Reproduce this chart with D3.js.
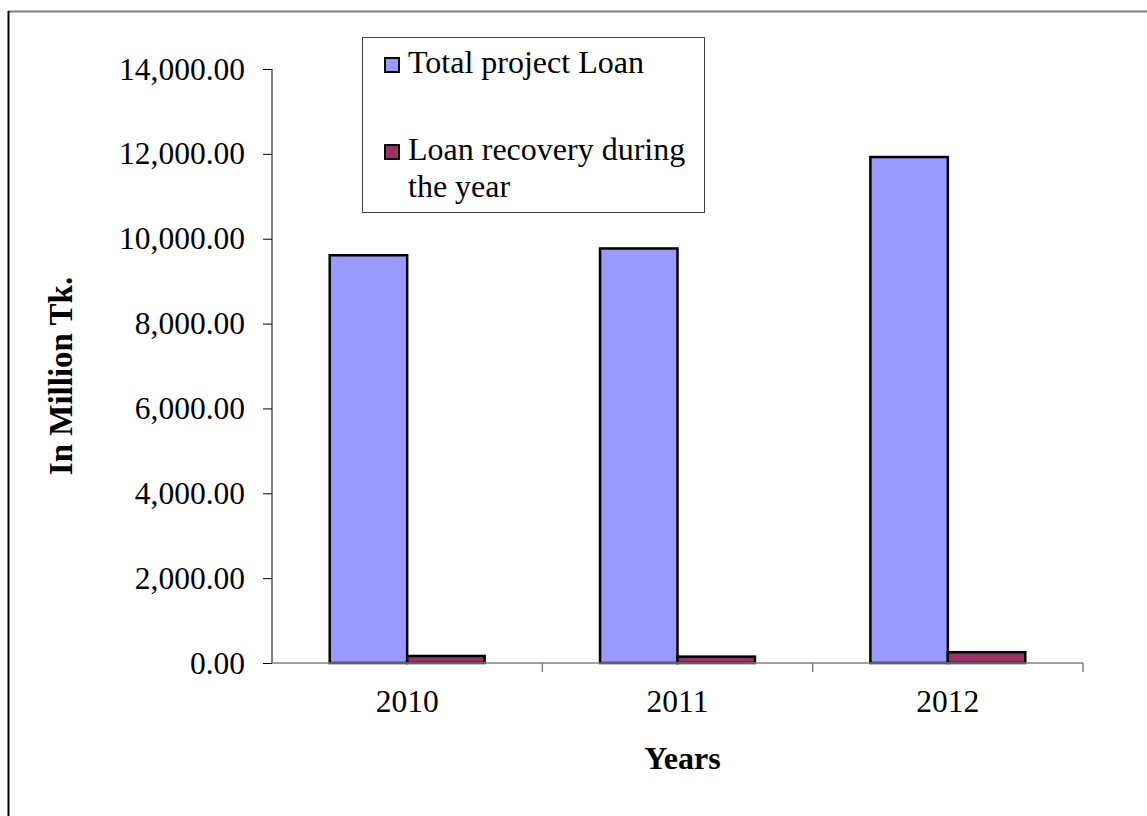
<!DOCTYPE html>
<html>
<head>
<meta charset="utf-8">
<script src="https://cdn.jsdelivr.net/npm/d3@7"></script>
<style>
  body { margin: 0; background: #fff; }
  text { font-family: "Liberation Serif", "Times New Roman", serif; }
</style>
</head>
<body>
<svg width="1147" height="816"></svg>
<script>
// data
var years = ["2010", "2011", "2012"];
var seriesNames = ["Total project Loan", "Loan recovery during the year"];
var totalLoan = [9610, 9770, 11925];
var recovery = [165, 150, 255];
var yTicks = [0, 2000, 4000, 6000, 8000, 10000, 12000, 14000];
var colors = ["#9999FF", "#993366"];

var svg = d3.select("svg"),
  margin = { top: 69, right: 64, bottom: 153, left: 272 },
  width = +svg.attr("width") - margin.left - margin.right,
  height = +svg.attr("height") - margin.top - margin.bottom;

// outer frame (cut off at right and bottom)
svg.append("line")
  .attr("x1", 8).attr("x2", 1147).attr("y1", 11.5).attr("y2", 11.5)
  .attr("stroke", "#808080").attr("stroke-width", 2);
svg.append("line")
  .attr("x1", 8.5).attr("x2", 8.5).attr("y1", 11).attr("y2", 816)
  .attr("stroke", "#000").attr("stroke-width", 2);

var x0 = d3.scaleBand().domain(years).range([0, width]).paddingInner(0).paddingOuter(0);
var x1 = d3.scaleBand().domain([0, 1]).range([0, x0.bandwidth()]).paddingInner(0).paddingOuter(0.745);
var y = d3.scaleLinear().domain([0, 14000]).range([height, 0]);

var g = svg.append("g")
  .attr("transform", "translate(" + margin.left + "," + margin.top + ")");

// y axis
var yAxis = g.append("g")
  .attr("class", "axis axis--y")
  .call(d3.axisLeft(y).tickValues(yTicks).tickSize(9).tickPadding(18)
    .tickFormat(d3.format(",.2f")));
yAxis.select(".domain").attr("stroke", "#000").attr("d", "M0,0V" + height);
yAxis.selectAll(".tick line").attr("stroke", "#000");
yAxis.selectAll("text")
  .attr("font-size", 31.5)
  .attr("fill", "#000")
  .attr("font-family", "Liberation Serif, Times New Roman, serif")
  .attr("dy", "0.32em");

// bars
var data = years.map(function (yr, i) {
  return { year: yr, values: [totalLoan[i], recovery[i]] };
});

var groups = g.selectAll(".year")
  .data(data)
  .enter()
  .append("g")
  .attr("class", "year")
  .attr("transform", function (d) {
    return "translate(" + x0(d.year) + ",0)";
  });

groups.selectAll("rect")
  .data(function (d) {
    return d.values.map(function (v, i) { return { s: i, v: v }; });
  })
  .enter()
  .append("rect")
  .attr("x", function (d) { return x1(d.s); })
  .attr("y", function (d) { return y(d.v); })
  .attr("width", x1.bandwidth())
  .attr("height", function (d) { return height - y(d.v); })
  .attr("fill", function (d) { return colors[d.s]; })
  .attr("stroke", "#000")
  .attr("stroke-width", 2.5);

// x axis
var xAxis = g.append("g")
  .attr("class", "axis axis--x")
  .attr("transform", "translate(0," + height + ")")
  .call(d3.axisBottom(x0).tickSize(0).tickPadding(27));
xAxis.select(".domain").attr("stroke", "#808080").attr("stroke-width", 1.5)
  .attr("d", "M0,0H" + width);
xAxis.selectAll("text")
  .attr("font-size", 31.5)
  .attr("fill", "#000")
  .attr("font-family", "Liberation Serif, Times New Roman, serif");
// ticks between categories
var bounds = years.map(function (yr) { return x0(yr) + x0.bandwidth(); });
xAxis.selectAll(".sep")
  .data(bounds)
  .enter()
  .append("line")
  .attr("x1", function (d) { return d; })
  .attr("x2", function (d) { return d; })
  .attr("y1", 0)
  .attr("y2", 9)
  .attr("stroke", "#808080")
  .attr("stroke-width", 1.5);

// axis titles
g.append("text")
  .attr("x", width / 2 + 5)
  .attr("y", height + 106)
  .attr("text-anchor", "middle")
  .attr("font-weight", "bold")
  .attr("font-size", 32)
  .text("Years");

svg.append("text")
  .attr("transform", "translate(72,376) rotate(-90)")
  .attr("text-anchor", "middle")
  .attr("font-weight", "bold")
  .attr("font-size", 33)
  .text("In Million Tk.");

// legend
var legend = svg.append("g").attr("transform", "translate(362,37)");
legend.append("rect")
  .attr("x", 0.5).attr("y", 0.5)
  .attr("width", 342).attr("height", 175)
  .attr("fill", "#fff")
  .attr("stroke", "#404040")
  .attr("stroke-width", 1);

var legendRows = [
  { lines: ["Total project Loan"], y: 36 },
  { lines: ["Loan recovery during", "the year"], y: 123 }
];

legendRows.forEach(function (row, i) {
  legend.append("rect")
    .attr("x", 23).attr("y", row.y - 15)
    .attr("width", 14).attr("height", 14)
    .attr("fill", colors[i])
    .attr("stroke", "#000")
    .attr("stroke-width", 2);
  var t = legend.append("text")
    .attr("x", 46)
    .attr("y", row.y)
    .attr("font-size", 32)
    .attr("fill", "#000");
  row.lines.forEach(function (ln, j) {
    t.append("tspan")
      .attr("x", 46)
      .attr("dy", j === 0 ? 0 : 37)
      .text(ln);
  });
});
</script>
</body>
</html>
